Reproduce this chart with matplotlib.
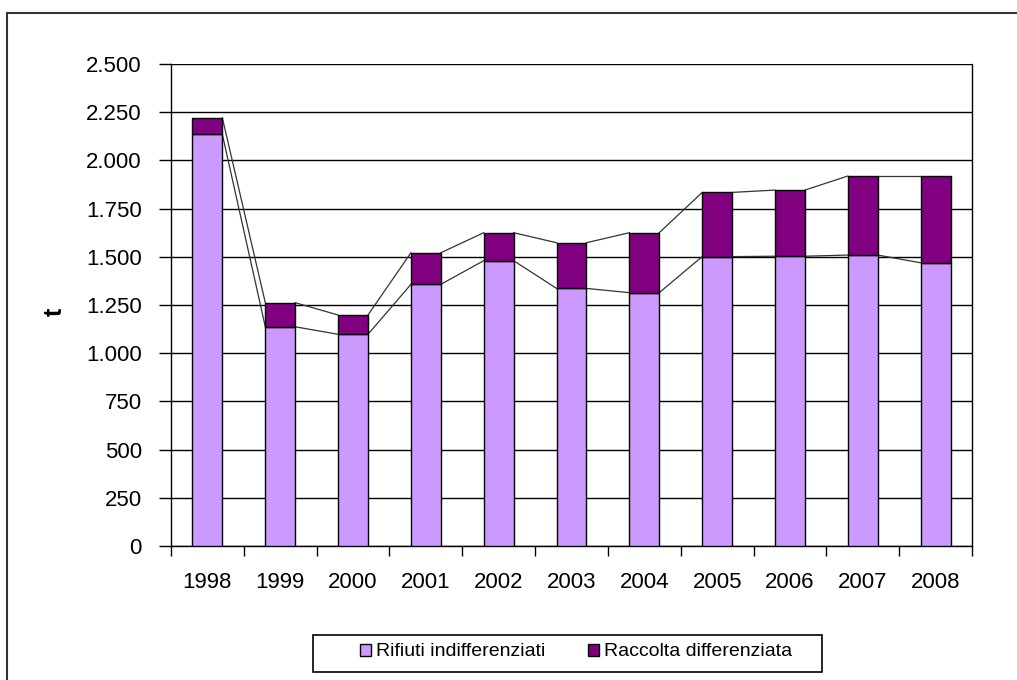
import matplotlib
matplotlib.use("Agg")
import matplotlib.pyplot as plt
from matplotlib.patches import Rectangle, Patch
from matplotlib.lines import Line2D
import numpy as np

plt.rcParams['font.family'] = ['Liberation Sans', 'DejaVu Sans']

# dati (tonnellate)
anni = ['1998', '1999', '2000', '2001', '2002', '2003', '2004', '2005', '2006', '2007', '2008']
indifferenziati = [2135, 1137, 1098, 1357, 1480, 1336, 1314, 1501, 1503, 1509, 1469]
differenziata = [86, 125, 100, 164, 145, 237, 311, 333, 343, 410, 450]

col_indiff = '#CC99FF'
col_diff = '#800080'

W, H = 1017, 680
fig = plt.figure(figsize=(W / 100, H / 100), dpi=100)
ax = fig.add_axes([171 / W, 1 - 546 / H, (972 - 171) / W, (546 - 64) / H])

x = np.arange(len(anni))
bw = 0.41
bottom_vals = np.array(indifferenziati)
top_vals = bottom_vals + np.array(differenziata)

ax.bar(x, indifferenziati, width=bw, color=col_indiff, edgecolor='black', linewidth=1.0, zorder=3)
ax.bar(x, differenziata, width=bw, bottom=indifferenziati, color=col_diff, edgecolor='black',
       linewidth=1.0, zorder=3)

# linee di serie (stile Excel) tra le barre
for i in range(len(anni) - 1):
    for vals in (bottom_vals, top_vals):
        ax.plot([x[i] + bw / 2, x[i + 1] - bw / 2], [vals[i], vals[i + 1]],
                color='#333333', linewidth=0.9, zorder=2)

ax.set_xlim(-0.5, len(anni) - 0.5)
ax.set_ylim(0, 2500)
ax.set_yticks(np.arange(0, 2501, 250))
ax.set_yticklabels(['{:,}'.format(v).replace(',', '.') for v in range(0, 2501, 250)])
ax.yaxis.grid(True, color='black', linewidth=1.0, zorder=0)
ax.set_axisbelow(True)

ax.set_xticks(x)
ax.set_xticklabels(anni)
ax.set_xticks(np.arange(-0.5, len(anni), 1), minor=True)
ax.tick_params(axis='x', which='major', length=0, pad=19, labelsize=16)
ax.tick_params(axis='x', which='minor', length=7, width=1, direction='out')
ax.tick_params(axis='y', length=9, width=1, direction='out', pad=12, labelsize=16)

for s in ['left', 'bottom', 'right']:
    ax.spines[s].set_linewidth(1.0)
ax.spines['top'].set_visible(False)

fig.text(55 / W, 1 - 312 / H, 't', rotation=90, fontsize=18, fontweight='bold',
         ha='center', va='center')

# cornice esterna (solo lati sinistro e superiore visibili)
fig.add_artist(Line2D([7 / W, 7 / W], [0, 1 - 13 / H], color='#333333', linewidth=1.5,
                      transform=fig.transFigure))
fig.add_artist(Line2D([7 / W, 1], [1 - 13 / H, 1 - 13 / H], color='#333333', linewidth=1.5,
                      transform=fig.transFigure))

# legenda
fig.add_artist(Rectangle((313 / W, 1 - 672 / H), (822 - 313) / W, (672 - 635) / H,
                         transform=fig.transFigure, fill=False, edgecolor='black', linewidth=1.2))
handles = [Patch(facecolor=col_indiff, edgecolor='black'),
           Patch(facecolor=col_diff, edgecolor='black')]
fig.legend(handles, ['Rifiuti indifferenziati', 'Raccolta differenziata'],
           loc='center', bbox_to_anchor=(576 / W, 1 - 652 / H), ncol=2, frameon=False,
           fontsize=14, handlelength=0.57, handleheight=0.57, handletextpad=0.26,
           columnspacing=2.2, borderpad=0, borderaxespad=0)

fig.savefig('out.png', dpi=100)
